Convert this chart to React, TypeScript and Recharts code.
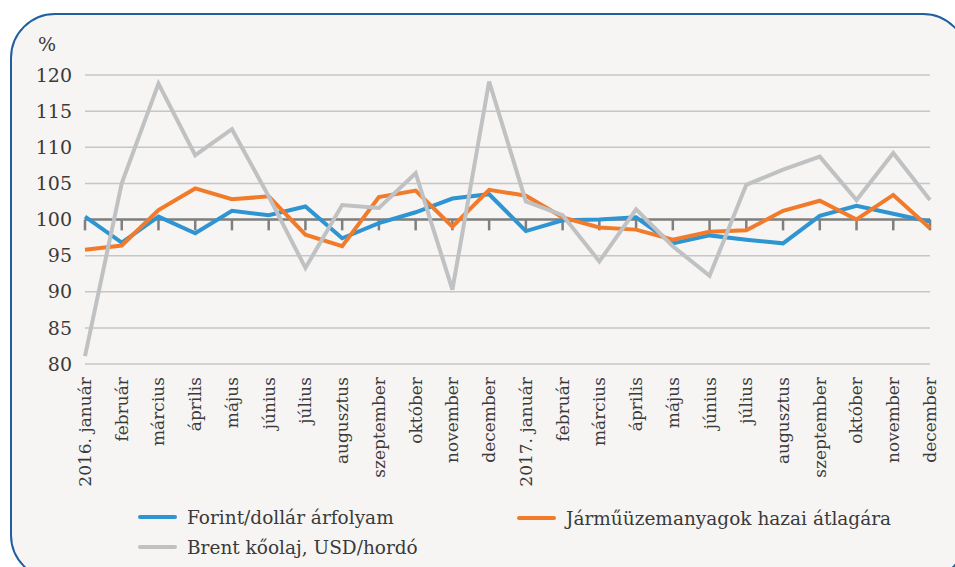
import { LineChart, Line, XAxis, YAxis, CartesianGrid, ReferenceLine } from 'recharts';

const months = [
  '2016. január', 'február', 'március', 'április', 'május', 'június',
  'július', 'augusztus', 'szeptember', 'október', 'november', 'december',
  '2017. január', 'február ', 'március ', 'április ', 'május ', 'június ',
  'július ', 'augusztus ', 'szeptember ', 'október ', 'november ', 'december ',
];

const forint = [
  100.4, 96.8, 100.4, 98.1, 101.2, 100.6, 101.8, 97.4, 99.5, 101.0, 102.9, 103.5,
  98.4, 99.9, 100.0, 100.3, 96.7, 97.8, 97.2, 96.7, 100.5, 101.9, 100.8, 99.7,
];

const fuel = [
  95.8, 96.4, 101.3, 104.3, 102.8, 103.2, 97.9, 96.3, 103.1, 104.0, 99.0, 104.1,
  103.3, 100.3, 98.9, 98.6, 97.2, 98.3, 98.5, 101.2, 102.6, 100.0, 103.4, 98.8,
];

const brent = [
  81.1, 105.0, 118.8, 108.9, 112.5, 103.2, 93.3, 102.0, 101.6, 106.4, 90.3, 119.1,
  102.5, 100.6, 94.2, 101.4, 96.3, 92.2, 104.8, 106.9, 108.7, 102.7, 109.2, 102.7,
];

const yTicks = [80, 85, 90, 95, 100, 105, 110, 115, 120];

const legendItems = [
  { name: 'Forint/dollár árfolyam', color: '#2e95d2', left: 138, top: 517 },
  { name: 'Járműüzemanyagok hazai átlagára', color: '#f27b2b', left: 517, top: 518 },
  { name: 'Brent kőolaj, USD/hordó', color: '#bfc1c3', left: 138, top: 547 },
];

const data = months.map((m, i) => ({ month: m, forint: forint[i], fuel: fuel[i], brent: brent[i] }));

const FONT = "'DejaVu Serif', serif";
const TEXT = '#3a3a3a';

const MonthTick = (props: any) => {
  const { x, y, payload } = props;
  return (
    <g transform={`translate(${x},${y})`}>
      <text
        transform="rotate(-90)"
        x={-5}
        y={0}
        dy="0.35em"
        textAnchor="end"
        fontFamily={FONT}
        fontSize={17}
        fill={TEXT}
      >
        {String(payload.value).trim()}
      </text>
    </g>
  );
};

const App = () => {
  return (
    <div style={{ position: 'relative', width: 955, height: 567, overflow: 'hidden', background: '#ffffff', fontFamily: FONT }}>
      <style>{`body{margin:0}`}</style>
      <div
        style={{
          position: 'absolute',
          left: 10,
          top: 13,
          width: 958,
          height: 567,
          border: '2px solid #1f5f9f',
          borderRadius: 45,
          background: '#f6f5f3',
          boxSizing: 'border-box',
        }}
      />
      <div style={{ position: 'absolute', left: 0, top: 0 }}>
        <LineChart width={955} height={567} data={data} margin={{ top: 75, right: 25, left: 0, bottom: 0 }}>
          <CartesianGrid vertical={false} stroke="#c6c6c6" strokeWidth={1.5} />
          <XAxis
            dataKey="month"
            interval={0}
            height={203}
            axisLine={false}
            tickLine={false}
            tick={<MonthTick />}
          />
          <YAxis
            domain={[80, 120]}
            ticks={yTicks}
            width={85}
            axisLine={false}
            tickLine={false}
            tickMargin={7}
            tick={{ fontSize: 19, fill: TEXT, fontFamily: FONT }}
          />
          <ReferenceLine y={100} stroke="#7f7f7f" strokeWidth={2.5} />
          {months.map((m) => (
            <ReferenceLine
              key={m}
              segment={[{ x: m, y: 100 }, { x: m, y: 98.5 }]}
              stroke="#7f7f7f"
              strokeWidth={2.5}
            />
          ))}
          <Line dataKey="forint" stroke="#2e95d2" strokeWidth={4} dot={false} isAnimationActive={false} />
          <Line dataKey="fuel" stroke="#f27b2b" strokeWidth={4} dot={false} isAnimationActive={false} />
          <Line dataKey="brent" stroke="#bfc1c3" strokeWidth={4} dot={false} isAnimationActive={false} />
        </LineChart>
      </div>
      <div style={{ position: 'absolute', left: 38, top: 33, fontSize: 19, color: TEXT }}>%</div>
      {legendItems.map((item) => (
        <div key={item.name} style={{ position: 'absolute', left: item.left, top: item.top - 14, height: 28, display: 'flex', alignItems: 'center' }}>
          <div style={{ width: 39, height: 4, borderRadius: 2, background: item.color, marginRight: 10 }} />
          <span style={{ fontSize: 18.5, color: TEXT, whiteSpace: 'nowrap' }}>{item.name}</span>
        </div>
      ))}
    </div>
  );
};

export default App;
